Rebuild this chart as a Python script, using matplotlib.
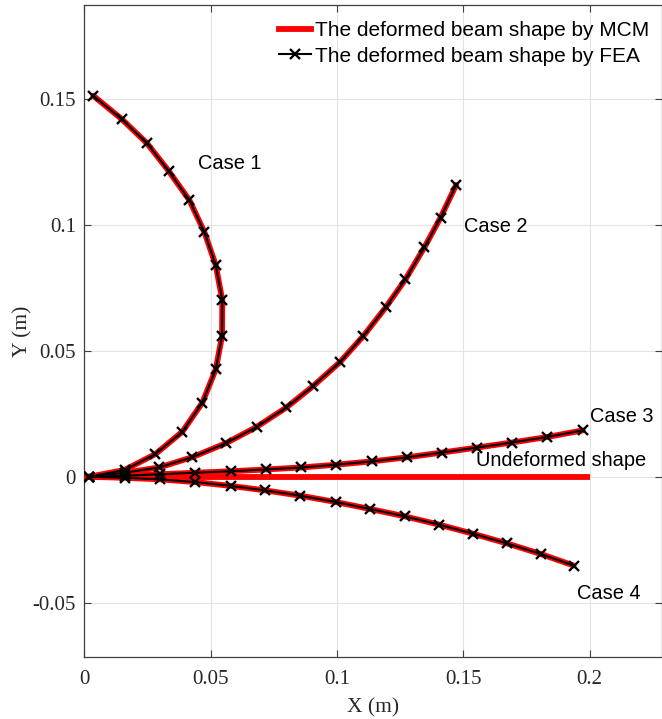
import matplotlib
matplotlib.use("Agg")
import matplotlib.pyplot as plt
from matplotlib.lines import Line2D

plt.rcParams["axes.unicode_minus"] = False

# Deformed beam shapes (FEA nodes), metres
case1_x = [0.0017, 0.0159, 0.0281, 0.0388, 0.0467, 0.0520, 0.0545, 0.0546,
           0.0520, 0.0475, 0.0416, 0.0334, 0.0248, 0.0148, 0.0035]
case1_y = [0.0, 0.0027, 0.0090, 0.0179, 0.0294, 0.0426, 0.0558, 0.0701,
           0.0840, 0.0971, 0.1097, 0.1213, 0.1323, 0.1419, 0.1512]

case2_x = [0.0017, 0.0159, 0.0296, 0.0428, 0.0560, 0.0682, 0.0800, 0.0907,
           0.1012, 0.1104, 0.1193, 0.1271, 0.1346, 0.1410, 0.1472]
case2_y = [0.0, 0.0016, 0.0037, 0.0078, 0.0133, 0.0198, 0.0275, 0.0361,
           0.0455, 0.0558, 0.0672, 0.0783, 0.0910, 0.1028, 0.1158]

case3_x = [0.0017, 0.0159, 0.0298, 0.0438, 0.0579, 0.0719, 0.0858, 0.0998,
           0.1137, 0.1276, 0.1415, 0.1555, 0.1693, 0.1833, 0.1973]
case3_y = [0.0, 0.0004, 0.0010, 0.0016, 0.0022, 0.0029, 0.0037, 0.0048,
           0.0061, 0.0077, 0.0096, 0.0116, 0.0136, 0.0158, 0.0184]

case4_x = [0.0017, 0.0159, 0.0298, 0.0438, 0.0579, 0.0716, 0.0855, 0.0995,
           0.1132, 0.1269, 0.1405, 0.1539, 0.1672, 0.1806, 0.1937]
case4_y = [0.0, -0.0004, -0.0010, -0.0021, -0.0036, -0.0054, -0.0075, -0.0100,
           -0.0128, -0.0157, -0.0190, -0.0226, -0.0264, -0.0306, -0.0352]

undeformed_x = [0.0, 0.2]
undeformed_y = [0.0, 0.0]

case_labels = ["Case 1", "Case 2", "Case 3", "Undeformed shape", "Case 4"]
case_label_x = [0.0450, 0.1502, 0.2000, 0.1552, 0.1950]
case_label_y = [0.1220, 0.0970, 0.0218, 0.0044, -0.0483]

x_ticks = [0.0, 0.05, 0.1, 0.15, 0.2]
x_ticklabels = ["0", "0.05", "0.1", "0.15", "0.2"]
y_ticks = [-0.05, 0.0, 0.05, 0.1, 0.15]
y_ticklabels = ["-0.05", "0", "0.05", "0.1", "0.15"]

W, H = 662, 719
fig = plt.figure(figsize=(W / 100, H / 100), dpi=100)
ax = fig.add_axes([84.4 / W, 62 / H, (661.5 - 84.4) / W, (657 - 4.7) / H])

red_lw = 4.2
black_lw = 1.5
mark_size = 6.5
mark_width = 1.7
cases = [(case1_x, case1_y), (case2_x, case2_y), (case3_x, case3_y), (case4_x, case4_y)]

for cx, cy in cases:
    ax.plot(cx, cy, color="red", lw=red_lw, solid_capstyle="round",
            solid_joinstyle="round", zorder=3)
ax.plot(undeformed_x, undeformed_y, color="red", lw=red_lw, solid_capstyle="butt", zorder=3)
for cx, cy in cases:
    ax.plot(cx, cy, color="black", lw=black_lw, marker="x", ms=mark_size,
            mew=mark_width, zorder=4)

for lbl, lx, ly in zip(case_labels, case_label_x, case_label_y):
    ax.text(lx, ly, lbl, ha="left", va="baseline", fontsize=14.4,
            family="Liberation Sans", color="black", zorder=5)

ax.set_xlim(0, 0.2285)
ax.set_ylim(-0.0715, 0.1873)

ax.set_xticks(x_ticks)
ax.set_xticklabels(x_ticklabels)
ax.set_yticks(y_ticks)
ax.set_yticklabels(y_ticklabels)
for t in ax.get_xticklabels() + ax.get_yticklabels():
    t.set_family("Liberation Serif")
    t.set_fontsize(15)
    t.set_color("#262626")

ax.tick_params(direction="in", length=5, width=0.8, color="#404040",
               top=True, right=True)
ax.tick_params(axis="x", pad=9)
ax.tick_params(axis="y", pad=6)

ax.grid(True, color="#e3e3e3", lw=0.8, zorder=0)
ax.set_axisbelow(True)
for s in ax.spines.values():
    s.set_color("#404040")
    s.set_linewidth(0.9)

ax.set_xlabel("X (m)", family="Liberation Serif", fontsize=15.5, color="#262626",
              labelpad=7)
ax.set_ylabel("Y (m)", family="Liberation Serif", fontsize=15.5, color="#262626",
              labelpad=0)

handles = [
    Line2D([], [], color="red", lw=red_lw),
    Line2D([], [], color="black", lw=black_lw, marker="x", ms=mark_size, mew=mark_width),
]
leg = ax.legend(handles, ["The deformed beam shape by MCM", "The deformed beam shape by FEA"],
                loc="upper left", bbox_to_anchor=(279.4 / W, 1 - 21 / H),
                bbox_transform=fig.transFigure, frameon=False, borderpad=0,
                borderaxespad=0, handlelength=1.5, handletextpad=0.2,
                labelspacing=0.32, prop={"family": "Liberation Sans", "size": 15})

fig.savefig("out.png", dpi=100)
